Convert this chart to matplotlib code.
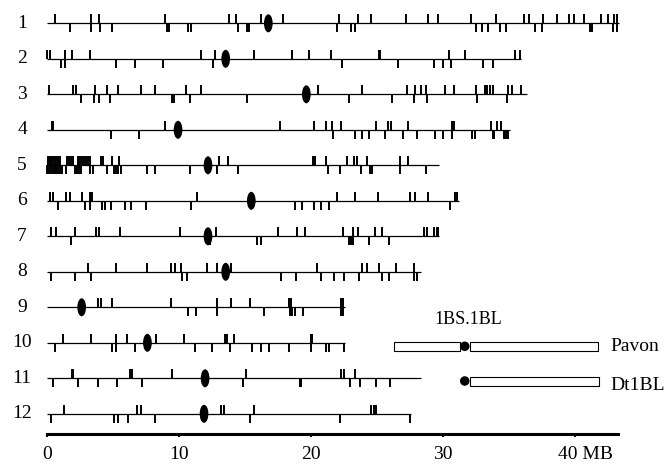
import matplotlib
matplotlib.use("Agg")
import matplotlib.pyplot as plt
from matplotlib.patches import Ellipse, Rectangle
from matplotlib.transforms import ScaledTranslation

plt.rcParams['font.family'] = ['Liberation Serif', 'DejaVu Serif']

# chromosome lengths (MB) and centromere positions
chrom_names = ['1', '2', '3', '4', '5', '6', '7', '8', '9', '10', '11', '12']
chrom_len = [43.36, 35.9, 36.4, 35.1, 29.72, 31.24, 29.72, 28.33, 22.58, 22.58, 28.33, 27.63]
centromere = [16.79, 13.56, 19.67, 9.95, 12.22, 15.5, 12.22, 13.56, 2.65, 7.63, 12.0, 11.92]

# marker positions drawn above the line
marks_up = [
    [0.63, 3.38, 3.99, 8.94, 13.81, 14.34, 16.21, 17.93, 22.15, 23.61, 24.55, 27.25, 28.91, 29.67,
     32.12, 34.07, 36.16, 36.54, 37.63, 38.64, 39.57, 39.95, 40.71, 41.97, 42.55, 42.98, 43.18],
    [0.05, 0.25, 1.39, 1.94, 3.26, 11.72, 12.75, 15.71, 18.56, 19.87, 21.52, 25.18, 25.25, 30.48,
     31.69, 35.45, 35.83],
    [0.18, 2.02, 2.2, 3.66, 4.55, 5.43, 7.17, 8.18, 10.58, 11.67, 20.58, 23.91, 27.27, 27.9, 28.33,
     28.71, 30.15, 30.86, 32.5, 33.18, 33.38, 33.56, 33.81, 34.95, 35.28, 35.91],
    [0.38, 0.48, 8.94, 17.65, 20.25, 21.14, 21.6, 22.32, 24.92, 25.88, 26.11, 27.37, 30.68, 30.86,
     33.69, 34.14, 34.39],
    [0.10, 0.23, 0.35, 0.48, 0.63, 0.76, 0.88, 1.01, 1.57, 1.69, 1.87, 2.02, 2.37, 2.5, 2.65, 2.83,
     2.98, 3.13, 3.26, 4.09, 4.27, 4.97, 5.48, 13.06, 13.76, 20.18, 20.33, 21.14, 22.78, 23.28,
     23.48, 24.29, 26.77, 27.37],
    [0.25, 0.48, 1.49, 1.74, 2.7, 3.28, 3.46, 11.36, 21.97, 23.36, 25.1, 27.5, 27.9, 28.89, 30.93,
     31.11],
    [0.3, 0.68, 2.12, 3.76, 3.96, 5.53, 10.08, 12.8, 17.53, 18.99, 19.55, 22.47, 23.21, 23.59,
     24.85, 25.43, 28.59, 28.84, 29.34, 29.55, 29.65],
    [3.13, 5.28, 7.63, 9.39, 9.72, 10.15, 12.17, 12.93, 13.94, 20.45, 23.91, 24.24, 25.18, 26.44,
     27.83],
    [3.89, 4.14, 4.97, 9.44, 12.93, 13.99, 15.4, 18.36, 18.48, 22.27, 22.47],
    [1.24, 3.38, 5.28, 6.06, 8.26, 10.4, 13.48, 13.69, 14.19, 20.0, 20.13],
    [1.89, 2.02, 6.31, 6.44, 9.52, 15.08, 22.27, 22.53, 23.36],
    [1.31, 6.82, 7.17, 13.18, 13.43, 15.71, 24.58, 24.79, 24.91],
]

# marker positions drawn below the line
marks_down = [
    [1.77, 3.38, 4.04, 4.97, 9.09, 9.29, 10.71, 10.96, 14.52, 15.15, 15.33, 21.97, 23.03, 23.36,
     32.5, 33.0, 33.46, 34.32, 34.82, 36.99, 37.5, 41.16, 41.34, 42.93, 43.23],
    [1.11, 1.36, 5.28, 6.69, 8.84, 12.6, 22.4, 26.64, 29.34, 30.05, 30.61, 33.05, 33.81],
    [2.58, 3.59, 3.96, 4.77, 9.47, 9.65, 10.86, 15.2, 22.9, 26.19, 27.83, 28.84, 32.63, 34.9],
    [4.85, 7.0, 21.72, 23.36, 23.91, 24.42, 25.63, 27.02, 28.08, 29.39, 30.03, 30.73, 32.25, 32.45,
     33.81, 33.91, 34.65, 34.82, 34.97],
    [0.05, 0.18, 0.3, 0.45, 0.61, 0.73, 0.86, 1.01, 1.16, 1.44, 2.12, 2.27, 2.42, 2.58, 3.28, 3.54,
     4.55, 5.1, 5.28, 5.43, 5.61, 7.63, 8.18, 10.86, 12.93, 14.49, 21.3, 22.2, 23.84, 24.49, 24.62,
     26.74, 28.76],
    [0.86, 2.88, 3.28, 4.22, 4.39, 4.85, 5.93, 6.36, 7.55, 10.91, 18.79, 19.37, 20.25, 20.81,
     21.39, 30.56],
    [1.82, 12.37, 15.96, 16.21, 22.9, 23.03, 23.21, 24.42, 25.93],
    [0.3, 2.15, 3.33, 10.28, 10.66, 17.73, 18.86, 20.81, 21.77, 22.53, 23.66, 25.38, 25.93, 27.83,
     28.08],
    [10.71, 11.29, 12.88, 16.46, 18.43, 18.61, 18.79, 19.44, 22.3, 22.47],
    [0.61, 4.92, 5.23, 6.69, 11.24, 12.5, 13.89, 15.58, 16.21, 16.84, 18.36, 20.0, 21.14, 21.39,
     22.53],
    [0.51, 2.37, 3.89, 5.3, 7.25, 14.87, 19.17, 19.29, 22.98, 23.74, 24.92, 26.01],
    [0.3, 5.1, 5.4, 6.16, 8.18, 15.4, 22.2, 27.53],
]

# wheat 1BS.1BL inset
pavon_segments = [(26.31, 31.31), (32.05, 41.77)]
dt1bl_segments = [(32.05, 41.87)]
inset_cen = 31.67

x_ticks = [0, 10, 20, 30, 40]
x_ticklabels = ['0', '10', '20', '30', '40 MB']

PX = 13.2           # pixels per MB
X0 = 46.7           # pixel of 0 MB
def mb(px):
    return (px - X0) / PX

fig = plt.figure(figsize=(6.68, 4.66), dpi=100)
ax_left = 36
ax = fig.add_axes([ax_left / 668, 0, 1 - ax_left / 668, 1])
ax.set_xlim(mb(ax_left), mb(668))
ax.set_ylim(466, 0)

row_y = [23.3 + 35.5 * i for i in range(len(chrom_names))]
tick_h = 9

for i, y in enumerate(row_y):
    ax.hlines(y, 0, chrom_len[i], color='black', lw=0.9)
    ax.vlines(marks_up[i], y - tick_h, y, color='black', lw=1.4)
    ax.vlines(marks_down[i], y, y + tick_h, color='black', lw=1.4)
    ax.add_patch(Ellipse((centromere[i], y), 8.7 / PX, 18, color='black', lw=0))

# inset bars
bar_h = 9
for (y, segs, name, base) in [(346.3, pavon_segments, 'Pavon', 351),
                              (381.0, dt1bl_segments, 'Dt1BL', 390)]:
    for s, e in segs:
        ax.add_patch(Rectangle((s, y - bar_h / 2), e - s, bar_h, facecolor='white',
                               edgecolor='black', lw=0.8))
    ax.add_patch(Ellipse((inset_cen, y), 9.5 / PX, 9.5, color='black', lw=0, zorder=3))
    ax.text(mb(610), base, name, fontsize=14, va='baseline', ha='left')
ax.text(mb(468.3), 324, '1BS.1BL', fontsize=13, va='baseline', ha='center')

# axes styling
for s in ['top', 'right', 'left']:
    ax.spines[s].set_visible(False)
ax.spines['bottom'].set_position(('data', 434.3))
ax.spines['bottom'].set_bounds(0, 43.3)
ax.spines['bottom'].set_linewidth(2.2)
ax.set_xticks(x_ticks, x_ticklabels)
ax.tick_params(axis='x', direction='out', length=2, width=1.5, pad=6.5, labelsize=14)
lbl40 = ax.get_xticklabels()[-1]
lbl40.set_transform(lbl40.get_transform() + ScaledTranslation(11 / 100, 0, fig.dpi_scale_trans))

ax.set_yticks(row_y, chrom_names)
ax.tick_params(axis='y', length=0, pad=(ax_left - 22) * 0.72, labelsize=14)
for lab in ax.get_yticklabels():
    lab.set_ha('center')
    lab.set_va('center')

fig.savefig('out.png', dpi=100)
